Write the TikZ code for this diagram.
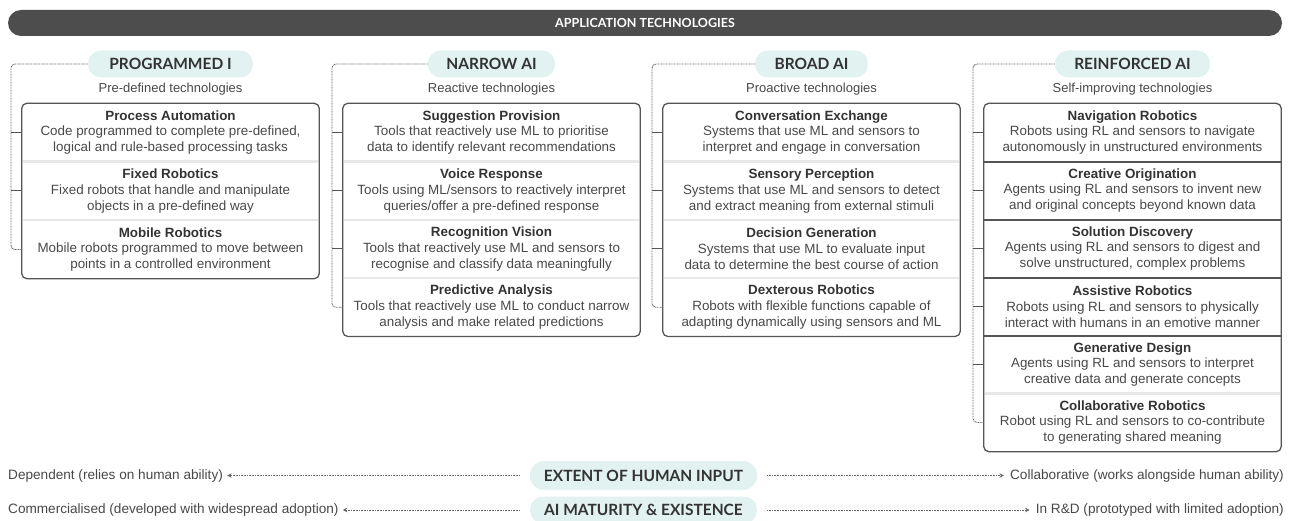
\documentclass[tikz,border=0pt]{standalone}
\usepackage{fontspec}
\setmainfont{Liberation Sans}
\newfontfamily\pillfont{Lato}
\usetikzlibrary{arrows.meta,calc}
\definecolor{barc}{HTML}{4D4D4D}
\definecolor{pillfill}{HTML}{E1F2F0}
\definecolor{txt}{HTML}{484848}
\definecolor{ttl}{HTML}{333333}
\definecolor{framec}{HTML}{555555}
\definecolor{divl}{HTML}{E8E8E8}
\definecolor{dotc}{HTML}{666666}
\newcommand\rowtext[3]{{\bfseries\color{ttl}#1}\\#2\\#3}
\begin{document}
\begin{tikzpicture}[x=1pt,y=-1pt,
 pill/.style={fill=pillfill, rounded corners=13pt, minimum height=27pt, inner sep=0pt, font=\pillfont\bfseries\fontsize{15.5}{18}\selectfont, text=ttl},
 sub/.style={font=\fontsize{13}{15}\selectfont, text=txt, inner sep=0pt},
 rowbox/.style={minimum width=297pt, minimum height=58pt, inner sep=0pt, align=center, font=\fontsize{13.4}{15.8}\selectfont, text=txt},
 framebox/.style={draw=framec, line width=1.3pt, rounded corners=5pt},
 ldiv/.style={draw=divl, line width=2.5pt},
 ddiv/.style={draw=framec, line width=2pt},
 dots/.style={draw=dotc, line width=0.9pt, dash pattern=on 0.9pt off 0.7pt, rounded corners=4pt},
 tickline/.style={draw=framec, line width=1pt},
 arr/.style={draw=dotc, line width=0.9pt, dash pattern=on 0.9pt off 0.7pt, -{Stealth[length=4.5pt,width=4.5pt]}},
 side/.style={font=\fontsize{13.6}{15}\selectfont, text=txt, inner sep=0pt}
]
\useasboundingbox (0,0) rectangle (1292,521);

% top bar
\node[fill=barc, rounded corners=13pt, minimum width=1274pt, minimum height=26pt, inner sep=0pt,
      text=white, font=\pillfont\bfseries\fontsize{12.5}{15}\selectfont] (bar) at (645,23) {APPLICATION TECHNOLOGIES};

% ---------- Column 1 ----------
\node[pill, minimum width=165pt] (p1) at (170.5,64) {PROGRAMMED I};
\node[sub] (s1) at (170.5,89) {Pre-defined technologies};
\node[rowbox] (c1r1) at (170.5,132.5) {\rowtext{Process Automation}{Code programmed to complete pre-defined,}{logical and rule-based processing tasks}};
\node[rowbox] (c1r2) at (170.5,191) {\rowtext{Fixed Robotics}{Fixed robots that handle and manipulate}{objects in a pre-defined way}};
\node[rowbox] (c1r3) at (170.5,249.5) {\rowtext{Mobile Robotics}{Mobile robots programmed to move between}{points in a controlled environment}};
\draw[ldiv] ([xshift=1pt]c1r1.south west) -- ([xshift=-1pt]c1r1.south east);
\draw[ldiv] ([xshift=1pt]c1r2.south west) -- ([xshift=-1pt]c1r2.south east);
\draw[framebox] (c1r1.north west) rectangle (c1r3.south east);
\coordinate (v1) at (11,64);
\draw[dots] (p1.west) -- (v1) -- (v1 |- c1r3.west) -- (c1r3.west);
\draw[tickline] (v1 |- c1r1.west) -- (c1r1.west);
\draw[tickline] (v1 |- c1r2.west) -- (c1r2.west);

% ---------- Column 2 ----------
\node[pill, minimum width=127pt] (p2) at (491.5,64) {NARROW AI};
\node[sub] (s2) at (491.5,89) {Reactive technologies};
\node[rowbox] (c2r1) at (491.5,132.5) {\rowtext{Suggestion Provision}{Tools that reactively use ML to prioritise}{data to identify relevant recommendations}};
\node[rowbox] (c2r2) at (491.5,190.75) {\rowtext{Voice Response}{Tools using ML/sensors to reactively interpret}{queries/offer a pre-defined response}};
\node[rowbox] (c2r3) at (491.5,249) {\rowtext{Recognition Vision}{Tools that reactively use ML and sensors to}{recognise and classify data meaningfully}};
\node[rowbox] (c2r4) at (491.5,307.25) {\rowtext{Predictive Analysis}{Tools that reactively use ML to conduct narrow}{analysis and make related predictions}};
\foreach \r in {1,2,3} {\draw[ldiv] ([xshift=1pt]c2r\r.south west) -- ([xshift=-1pt]c2r\r.south east);}
\draw[framebox] (c2r1.north west) rectangle (c2r4.south east);
\coordinate (v2) at (332,64);
\draw[dots] (p2.west) -- (v2) -- (v2 |- c2r4.west) -- (c2r4.west);
\foreach \r in {1,2,3} {\draw[tickline] (v2 |- c2r\r.west) -- (c2r\r.west);}

% ---------- Column 3 ----------
\node[pill, minimum width=113pt] (p3) at (811.5,64) {BROAD AI};
\node[sub] (s3) at (811.5,89) {Proactive technologies};
\node[rowbox] (c3r1) at (811.5,132.5) {\rowtext{Conversation Exchange}{Systems that use ML and sensors to}{interpret and engage in conversation}};
\node[rowbox] (c3r2) at (811.5,190.75) {\rowtext{Sensory Perception}{Systems that use ML and sensors to detect}{and extract meaning from external stimuli}};
\node[rowbox] (c3r3) at (811.5,249) {\rowtext{Decision Generation}{Systems that use ML to evaluate input}{data to determine the best course of action}};
\node[rowbox] (c3r4) at (811.5,307.25) {\rowtext{Dexterous Robotics}{Robots with flexible functions capable of}{adapting dynamically using sensors and ML}};
\foreach \r in {1,2,3} {\draw[ldiv] ([xshift=1pt]c3r\r.south west) -- ([xshift=-1pt]c3r\r.south east);}
\draw[framebox] (c3r1.north west) rectangle (c3r4.south east);
\coordinate (v3) at (652,64);
\draw[dots] (p3.west) -- (v3) -- (v3 |- c3r4.west) -- (c3r4.west);
\foreach \r in {1,2,3} {\draw[tickline] (v3 |- c3r\r.west) -- (c3r\r.west);}

% ---------- Column 4 ----------
\node[pill, minimum width=155pt] (p4) at (1132.5,64) {REINFORCED AI};
\node[sub] (s4) at (1132.5,89) {Self-improving technologies};
\node[rowbox] (c4r1) at (1132.5,132.5) {\rowtext{Navigation Robotics}{Robots using RL and sensors to navigate}{autonomously in unstructured environments}};
\node[rowbox] (c4r2) at (1132.5,190.5) {\rowtext{Creative Origination}{Agents using RL and sensors to invent new}{and original concepts beyond known data}};
\node[rowbox] (c4r3) at (1132.5,248.5) {\rowtext{Solution Discovery}{Agents using RL and sensors to digest and}{solve unstructured, complex problems}};
\node[rowbox] (c4r4) at (1132.5,306.5) {\rowtext{Assistive Robotics}{Robots using RL and sensors to physically}{interact with humans in an emotive manner}};
\node[rowbox] (c4r5) at (1132.5,364.5) {\rowtext{Generative Design}{Agents using RL and sensors to interpret}{creative data and generate concepts}};
\node[rowbox] (c4r6) at (1132.5,422.5) {\rowtext{Collaborative Robotics}{Robot using RL and sensors to co-contribute}{to generating shared meaning}};
\foreach \r in {1,2,3,4} {\draw[ddiv] (c4r\r.south west) -- (c4r\r.south east);}
\draw[ldiv] ([xshift=1pt]c4r5.south west) -- ([xshift=-1pt]c4r5.south east);
\draw[framebox] (c4r1.north west) rectangle (c4r6.south east);
\coordinate (v4) at (973,64);
\draw[dots] (p4.west) -- (v4) -- (v4 |- c4r6.west) -- (c4r6.west);
\foreach \r in {1,2,3,4,5} {\draw[tickline] (v4 |- c4r\r.west) -- (c4r\r.west);}

% ---------- Bottom scales ----------
\node[pill, minimum width=227pt, minimum height=29pt, rounded corners=14pt] (e1) at (643.5,475.5) {EXTENT OF HUMAN INPUT};
\node[pill, minimum width=227pt, minimum height=27pt] (e2) at (643.5,510) {AI MATURITY \& EXISTENCE};
\node[side, anchor=west] (l1) at (8,475.5) {Dependent (relies on human ability)};
\node[side, anchor=east] (r1) at (1284,475.5) {Collaborative (works alongside human ability)};
\node[side, anchor=west] (l2) at (8,510) {Commercialised (developed with widespread adoption)};
\node[side, anchor=east] (r2) at (1284,510) {In R\&D (prototyped with limited adoption)};
\draw[arr] ([xshift=-10pt]e1.west) -- ([xshift=4pt]l1.east);
\draw[arr] ([xshift=10pt]e1.east) -- ([xshift=-6pt]r1.west);
\draw[arr] ([xshift=-10pt]e2.west) -- ([xshift=4pt]l2.east);
\draw[arr] ([xshift=10pt]e2.east) -- ([xshift=-6pt]r2.west);
\end{tikzpicture}
\end{document}
